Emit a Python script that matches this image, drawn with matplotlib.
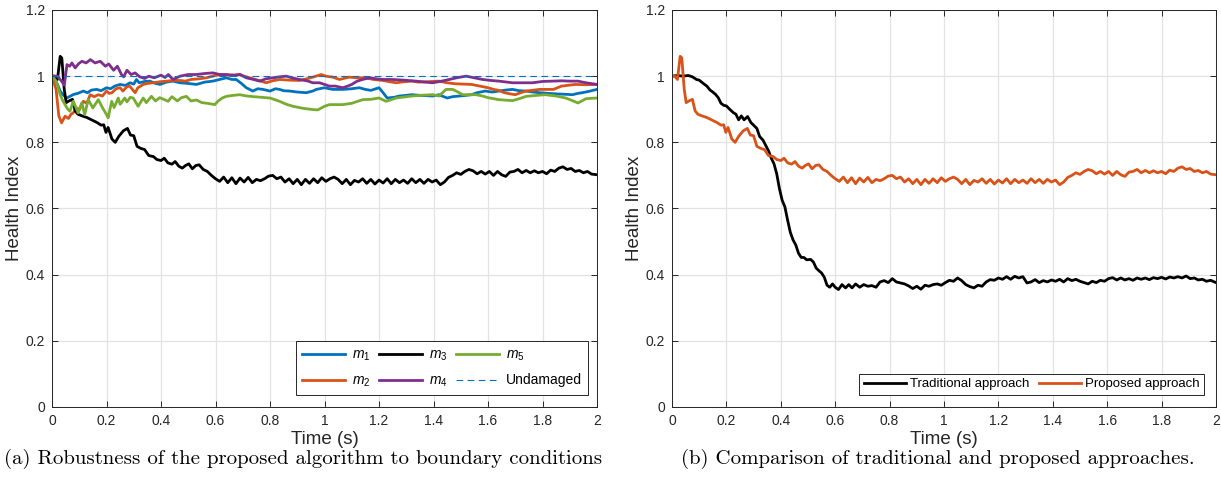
import matplotlib.pyplot as plt
import numpy as np

# ---- data ----
# m3 (left, black) -- same record is the "Proposed approach" on the right
t_m3 = [0.000, 0.010, 0.020, 0.030, 0.036, 0.045, 0.052, 0.062, 0.075, 0.085, 0.095, 0.110,
        0.128, 0.145, 0.165, 0.180, 0.190, 0.198, 0.206, 0.220, 0.232, 0.245, 0.262, 0.277,
        0.288, 0.300, 0.312, 0.325, 0.340, 0.355, 0.372, 0.385, 0.400, 0.412, 0.425, 0.440,
        0.452, 0.465, 0.478, 0.490, 0.502, 0.515, 0.528, 0.540, 0.555, 0.570, 0.585, 0.600,
        0.615, 0.630, 0.645, 0.660, 0.675, 0.690, 0.705, 0.720, 0.735, 0.750, 0.765, 0.780,
        0.795, 0.810, 0.825, 0.840, 0.855, 0.870, 0.885, 0.900, 0.915, 0.930, 0.945, 0.960,
        0.975, 0.990, 1.005, 1.020, 1.035, 1.050, 1.065, 1.080, 1.095, 1.110, 1.125, 1.140,
        1.155, 1.170, 1.185, 1.200, 1.215, 1.230, 1.245, 1.260, 1.275, 1.290, 1.305, 1.320,
        1.335, 1.350, 1.365, 1.380, 1.395, 1.410, 1.425, 1.440, 1.455, 1.470, 1.485, 1.500,
        1.515, 1.530, 1.545, 1.560, 1.575, 1.590, 1.605, 1.620, 1.635, 1.650, 1.665, 1.680,
        1.695, 1.710, 1.725, 1.740, 1.755, 1.770, 1.785, 1.800, 1.815, 1.830, 1.845, 1.860,
        1.875, 1.890, 1.905, 1.920, 1.935, 1.950, 1.965, 1.980, 2.000]
m3 = [1.000, 1.000, 0.990, 1.060, 1.055, 0.960, 0.920, 0.925, 0.930, 0.895, 0.885, 0.880,
      0.875, 0.868, 0.860, 0.852, 0.853, 0.830, 0.845, 0.810, 0.800, 0.818, 0.835, 0.842,
      0.822, 0.820, 0.788, 0.782, 0.778, 0.760, 0.757, 0.748, 0.745, 0.752, 0.738, 0.734,
      0.742, 0.728, 0.722, 0.730, 0.735, 0.720, 0.730, 0.732, 0.718, 0.712, 0.700, 0.690,
      0.682, 0.695, 0.678, 0.693, 0.675, 0.692, 0.680, 0.694, 0.678, 0.688, 0.684, 0.690,
      0.698, 0.700, 0.690, 0.695, 0.680, 0.690, 0.675, 0.688, 0.672, 0.688, 0.676, 0.690,
      0.678, 0.693, 0.682, 0.690, 0.695, 0.688, 0.675, 0.688, 0.672, 0.685, 0.680, 0.690,
      0.676, 0.688, 0.674, 0.686, 0.677, 0.690, 0.675, 0.688, 0.678, 0.686, 0.676, 0.690,
      0.678, 0.688, 0.676, 0.688, 0.680, 0.686, 0.672, 0.680, 0.694, 0.700, 0.708, 0.703,
      0.712, 0.718, 0.714, 0.705, 0.712, 0.704, 0.712, 0.700, 0.712, 0.702, 0.697, 0.710,
      0.712, 0.718, 0.708, 0.715, 0.708, 0.714, 0.708, 0.712, 0.705, 0.716, 0.712, 0.722,
      0.726, 0.718, 0.721, 0.712, 0.715, 0.708, 0.712, 0.704, 0.702]

t_m1 = [0.000, 0.015, 0.030, 0.040, 0.054, 0.068, 0.080, 0.095, 0.115, 0.130, 0.145, 0.164,
        0.180, 0.200, 0.215, 0.230, 0.250, 0.270, 0.286, 0.300, 0.310, 0.320, 0.340, 0.359,
        0.380, 0.396, 0.420, 0.444, 0.470, 0.500, 0.530, 0.560, 0.590, 0.615, 0.640, 0.660,
        0.676, 0.695, 0.713, 0.737, 0.755, 0.774, 0.800, 0.820, 0.835, 0.850, 0.872, 0.900,
        0.933, 0.957, 0.970, 1.000, 1.030, 1.067, 1.100, 1.128, 1.150, 1.170, 1.200, 1.215,
        1.230, 1.255, 1.275, 1.300, 1.320, 1.350, 1.397, 1.420, 1.450, 1.470, 1.495, 1.520,
        1.540, 1.560, 1.590, 1.615, 1.640, 1.665, 1.690, 1.715, 1.740, 1.765, 1.790, 1.820,
        1.860, 1.890, 1.910, 1.930, 1.946, 1.970, 2.000]
m1 = [1.000, 0.985, 0.955, 0.944, 0.934, 0.940, 0.945, 0.948, 0.955, 0.950, 0.958, 0.960,
      0.956, 0.965, 0.962, 0.970, 0.975, 0.972, 0.980, 0.976, 0.990, 0.980, 0.984, 0.985,
      0.978, 0.975, 0.982, 0.985, 0.980, 0.978, 0.975, 0.982, 0.985, 0.990, 0.995, 0.990,
      0.990, 0.978, 0.965, 0.955, 0.962, 0.960, 0.955, 0.962, 0.960, 0.956, 0.955, 0.952,
      0.950, 0.955, 0.960, 0.965, 0.960, 0.960, 0.962, 0.965, 0.960, 0.957, 0.965, 0.950,
      0.934, 0.936, 0.940, 0.942, 0.944, 0.942, 0.940, 0.944, 0.934, 0.938, 0.940, 0.942,
      0.944, 0.950, 0.955, 0.952, 0.955, 0.958, 0.960, 0.956, 0.955, 0.952, 0.950, 0.948,
      0.946, 0.945, 0.944, 0.948, 0.950, 0.954, 0.960]

t_m2 = [0.000, 0.015, 0.025, 0.035, 0.048, 0.060, 0.070, 0.078, 0.090, 0.100, 0.115, 0.128,
        0.140, 0.155, 0.170, 0.185, 0.200, 0.210, 0.220, 0.235, 0.250, 0.260, 0.275, 0.285,
        0.295, 0.305, 0.315, 0.335, 0.350, 0.371, 0.395, 0.420, 0.445, 0.469, 0.490, 0.510,
        0.540, 0.567, 0.590, 0.615, 0.650, 0.689, 0.705, 0.725, 0.755, 0.786, 0.810, 0.835,
        0.870, 0.908, 0.935, 0.957, 0.988, 1.005, 1.030, 1.055, 1.090, 1.120, 1.150, 1.180,
        1.214, 1.240, 1.263, 1.290, 1.320, 1.345, 1.370, 1.420, 1.450, 1.480, 1.510, 1.540,
        1.570, 1.600, 1.620, 1.640, 1.660, 1.685, 1.700, 1.720, 1.740, 1.790, 1.840, 1.870,
        1.920, 1.960, 2.000]
m2 = [1.000, 0.960, 0.880, 0.859, 0.879, 0.872, 0.885, 0.889, 0.904, 0.898, 0.924, 0.918,
      0.944, 0.938, 0.944, 0.940, 0.955, 0.948, 0.950, 0.962, 0.965, 0.955, 0.968, 0.970,
      0.960, 0.950, 0.965, 0.975, 0.978, 0.980, 0.983, 0.985, 0.987, 0.987, 0.985, 0.990,
      0.992, 0.995, 1.000, 1.005, 1.003, 1.005, 1.000, 0.995, 0.988, 0.980, 0.986, 0.990,
      0.988, 0.987, 0.992, 0.997, 1.005, 1.000, 0.997, 0.990, 0.997, 0.995, 0.995, 0.990,
      0.987, 0.983, 0.980, 0.983, 0.985, 0.982, 0.983, 0.985, 0.980, 0.977, 0.976, 0.975,
      0.970, 0.965, 0.960, 0.957, 0.950, 0.946, 0.944, 0.950, 0.955, 0.960, 0.960, 0.970,
      0.975, 0.974, 0.975]

t_m4 = [0.000, 0.020, 0.035, 0.045, 0.055, 0.065, 0.073, 0.085, 0.098, 0.110, 0.125, 0.141,
        0.158, 0.177, 0.196, 0.208, 0.226, 0.240, 0.255, 0.263, 0.275, 0.290, 0.305, 0.322,
        0.340, 0.355, 0.375, 0.400, 0.415, 0.427, 0.444, 0.470, 0.500, 0.530, 0.560, 0.590,
        0.615, 0.640, 0.670, 0.690, 0.713, 0.740, 0.762, 0.785, 0.810, 0.835, 0.860, 0.885,
        0.908, 0.940, 0.957, 0.982, 1.000, 1.018, 1.040, 1.067, 1.085, 1.100, 1.120, 1.140,
        1.165, 1.190, 1.214, 1.250, 1.290, 1.336, 1.370, 1.397, 1.430, 1.458, 1.490, 1.520,
        1.550, 1.580, 1.610, 1.640, 1.690, 1.730, 1.763, 1.800, 1.837, 1.870, 1.900, 1.930,
        1.960, 2.000]
m4 = [1.000, 1.000, 0.985, 0.973, 1.035, 1.030, 1.040, 1.025, 1.038, 1.045, 1.040, 1.050,
      1.040, 1.045, 1.030, 1.037, 1.018, 1.030, 1.005, 0.998, 1.018, 1.005, 1.010, 0.998,
      0.993, 1.000, 0.995, 1.003, 0.996, 1.005, 0.990, 1.000, 1.005, 1.005, 1.008, 1.010,
      1.005, 1.005, 1.002, 1.005, 0.995, 0.990, 0.985, 0.992, 0.995, 0.998, 1.000, 0.994,
      0.990, 0.985, 0.980, 0.980, 0.975, 0.970, 0.970, 0.965, 0.970, 0.975, 0.985, 0.990,
      0.995, 0.992, 0.990, 0.990, 0.988, 0.985, 0.982, 0.980, 0.985, 0.990, 0.996, 1.000,
      0.995, 0.990, 0.987, 0.985, 0.980, 0.980, 0.980, 0.984, 0.985, 0.986, 0.985, 0.985,
      0.980, 0.975]

t_m5 = [0.000, 0.015, 0.030, 0.040, 0.048, 0.058, 0.066, 0.078, 0.088, 0.096, 0.109, 0.120,
        0.133, 0.150, 0.170, 0.185, 0.200, 0.206, 0.219, 0.228, 0.243, 0.250, 0.267, 0.275,
        0.287, 0.298, 0.316, 0.335, 0.346, 0.365, 0.380, 0.395, 0.410, 0.426, 0.440, 0.460,
        0.475, 0.493, 0.510, 0.530, 0.550, 0.570, 0.597, 0.610, 0.625, 0.640, 0.665, 0.689,
        0.715, 0.740, 0.770, 0.800, 0.835, 0.860, 0.884, 0.920, 0.957, 0.975, 1.000, 1.018,
        1.067, 1.100, 1.140, 1.170, 1.200, 1.226, 1.263, 1.310, 1.350, 1.397, 1.420, 1.446,
        1.470, 1.490, 1.507, 1.556, 1.580, 1.600, 1.640, 1.690, 1.715, 1.740, 1.780, 1.810,
        1.850, 1.885, 1.910, 1.930, 1.960, 2.000]
m5 = [1.000, 0.985, 0.944, 0.925, 0.914, 0.900, 0.894, 0.924, 0.905, 0.889, 0.919, 0.884,
      0.929, 0.904, 0.929, 0.905, 0.884, 0.874, 0.924, 0.905, 0.934, 0.915, 0.934, 0.922,
      0.936, 0.934, 0.909, 0.934, 0.920, 0.939, 0.925, 0.935, 0.930, 0.924, 0.938, 0.925,
      0.935, 0.939, 0.925, 0.928, 0.920, 0.918, 0.914, 0.925, 0.934, 0.939, 0.942, 0.944,
      0.940, 0.938, 0.936, 0.934, 0.924, 0.915, 0.909, 0.903, 0.899, 0.898, 0.909, 0.914,
      0.914, 0.918, 0.929, 0.930, 0.934, 0.924, 0.934, 0.939, 0.942, 0.944, 0.940, 0.960,
      0.960, 0.952, 0.944, 0.944, 0.940, 0.935, 0.929, 0.926, 0.932, 0.939, 0.942, 0.944,
      0.940, 0.934, 0.926, 0.919, 0.932, 0.934]

t_trad = [0.000, 0.020, 0.040, 0.060, 0.075, 0.090, 0.100, 0.115, 0.128, 0.140, 0.150, 0.160,
          0.170, 0.180, 0.190, 0.200, 0.212, 0.225, 0.235, 0.245, 0.255, 0.265, 0.278, 0.290,
          0.300, 0.312, 0.322, 0.335, 0.345, 0.355, 0.365, 0.375, 0.385, 0.395, 0.405, 0.415,
          0.425, 0.435, 0.445, 0.455, 0.465, 0.475, 0.485, 0.495, 0.510, 0.520, 0.530, 0.540,
          0.550, 0.560, 0.570, 0.580, 0.590, 0.600, 0.612, 0.625, 0.638, 0.650, 0.662, 0.675,
          0.690, 0.705, 0.720, 0.735, 0.750, 0.765, 0.780, 0.795, 0.810, 0.825, 0.840, 0.855,
          0.870, 0.885, 0.900, 0.915, 0.930, 0.945, 0.960, 0.975, 0.990, 1.005, 1.020, 1.035,
          1.050, 1.065, 1.080, 1.095, 1.110, 1.125, 1.140, 1.155, 1.170, 1.185, 1.200, 1.215,
          1.230, 1.245, 1.260, 1.275, 1.290, 1.305, 1.320, 1.335, 1.350, 1.365, 1.380, 1.395,
          1.410, 1.425, 1.440, 1.455, 1.470, 1.485, 1.500, 1.515, 1.530, 1.545, 1.560, 1.575,
          1.590, 1.605, 1.620, 1.635, 1.650, 1.665, 1.680, 1.695, 1.710, 1.725, 1.740, 1.755,
          1.770, 1.785, 1.800, 1.815, 1.830, 1.845, 1.860, 1.875, 1.890, 1.905, 1.920, 1.935,
          1.950, 1.965, 1.980, 2.000]
trad = [1.000, 1.002, 1.000, 1.002, 0.998, 0.990, 0.988, 0.978, 0.970, 0.958, 0.952, 0.945,
        0.935, 0.918, 0.912, 0.910, 0.900, 0.890, 0.885, 0.868, 0.880, 0.868, 0.878, 0.860,
        0.852, 0.842, 0.818, 0.806, 0.790, 0.774, 0.752, 0.735, 0.705, 0.660, 0.625, 0.605,
        0.565, 0.528, 0.505, 0.490, 0.465, 0.452, 0.452, 0.445, 0.446, 0.438, 0.420, 0.412,
        0.405, 0.392, 0.368, 0.362, 0.372, 0.362, 0.355, 0.370, 0.360, 0.370, 0.360, 0.372,
        0.362, 0.370, 0.365, 0.367, 0.362, 0.378, 0.382, 0.376, 0.388, 0.378, 0.375, 0.372,
        0.366, 0.358, 0.365, 0.356, 0.368, 0.365, 0.370, 0.372, 0.368, 0.376, 0.383, 0.380,
        0.390, 0.382, 0.370, 0.364, 0.360, 0.368, 0.365, 0.378, 0.385, 0.383, 0.390, 0.386,
        0.394, 0.386, 0.395, 0.390, 0.394, 0.375, 0.378, 0.385, 0.376, 0.382, 0.378, 0.384,
        0.380, 0.386, 0.378, 0.388, 0.382, 0.386, 0.380, 0.376, 0.372, 0.380, 0.376, 0.383,
        0.380, 0.388, 0.391, 0.384, 0.390, 0.384, 0.388, 0.383, 0.390, 0.386, 0.390, 0.385,
        0.391, 0.388, 0.392, 0.387, 0.393, 0.390, 0.394, 0.390, 0.396, 0.388, 0.390, 0.384,
        0.386, 0.380, 0.383, 0.376]

xticks = [0, 0.2, 0.4, 0.6, 0.8, 1, 1.2, 1.4, 1.6, 1.8, 2]
xticklabels = ['0', '0.2', '0.4', '0.6', '0.8', '1', '1.2', '1.4', '1.6', '1.8', '2']
yticks = [0, 0.2, 0.4, 0.6, 0.8, 1, 1.2]
yticklabels = ['0', '0.2', '0.4', '0.6', '0.8', '1', '1.2']

captions = ['(a) Robustness of the proposed algorithm to boundary conditions',
            '(b) Comparison of traditional and proposed approaches.']

plt.rcParams['font.family'] = ['Liberation Sans', 'DejaVu Sans']
plt.rcParams['mathtext.fontset'] = 'custom'
plt.rcParams['mathtext.it'] = 'Liberation Sans:italic'
plt.rcParams['mathtext.rm'] = 'Liberation Sans'

blue, orange, purple, green = '#0072BD', '#D95319', '#7E2F8E', '#77AC30'
lw = 2.0

fig = plt.figure(figsize=(12.21, 4.94), dpi=100)
ax1 = fig.add_axes([52/1221, 1 - 407/494, 545/1221, 397/494])
ax2 = fig.add_axes([672/1221, 1 - 407/494, 544/1221, 397/494])


def style(ax):
    ax.set_xlim(0, 2)
    ax.set_ylim(0, 1.2)
    ax.set_xticks(xticks)
    ax.set_xticklabels(xticklabels)
    ax.set_yticks(yticks)
    ax.set_yticklabels(yticklabels)
    ax.grid(True, color='#e3e3e3', lw=0.9)
    ax.set_axisbelow(True)
    ax.tick_params(direction='in', top=True, right=True, length=4, width=0.7,
                   labelsize=10, colors='#262626', pad=5)
    for s in ax.spines.values():
        s.set_color('#262626')
        s.set_linewidth(0.7)
    ax.set_xlabel('Time (s)', fontsize=13.5, color='#262626', labelpad=2)
    ax.set_ylabel('Health Index', fontsize=13.5, color='#262626', labelpad=2)


# (a)
ax1.plot(t_m1, m1, color=blue, lw=lw, label=r'$m_1$')
ax1.plot(t_m2, m2, color=orange, lw=lw, label=r'$m_2$')
ax1.plot(t_m3, m3, color='k', lw=lw, label=r'$m_3$')
ax1.plot(t_m4, m4, color=purple, lw=lw, label=r'$m_4$')
ax1.plot(t_m5, m5, color=green, lw=lw, label=r'$m_5$')
ax1.plot([0, 2], [1, 1], '--', color=blue, lw=0.8, dashes=(6, 4), label='Undamaged')
style(ax1)
leg1 = ax1.legend(ncol=3, loc='lower right', bbox_to_anchor=(0.9835, 0.03), fontsize=10,
                  fancybox=False, edgecolor='#262626', framealpha=1, handlelength=3.1,
                  columnspacing=0.6, handletextpad=0.5, borderpad=0.45, labelspacing=0.75,
                  borderaxespad=0)
leg1.get_frame().set_linewidth(0.7)

# (b)
ax2.plot(t_trad, trad, color='k', lw=lw, label='Traditional approach')
ax2.plot(t_m3, m3, color=orange, lw=lw, label='Proposed approach')
style(ax2)
leg2 = ax2.legend(ncol=2, loc='lower right', bbox_to_anchor=(0.978, 0.03), fontsize=9.5,
                  fancybox=False, edgecolor='#262626', framealpha=1, handlelength=3.2,
                  columnspacing=0.7, handletextpad=0.3, borderpad=0.35, borderaxespad=0)
leg2.get_frame().set_linewidth(0.7)

fig.text(303.5/1221, 1 - 459/494, captions[0], ha='center', va='center',
         family='cmr10', fontsize=15.0)
fig.text(937.5/1221, 1 - 459/494, captions[1], ha='center', va='center',
         family='cmr10', fontsize=15.0)

fig.savefig('out.png', dpi=100)
